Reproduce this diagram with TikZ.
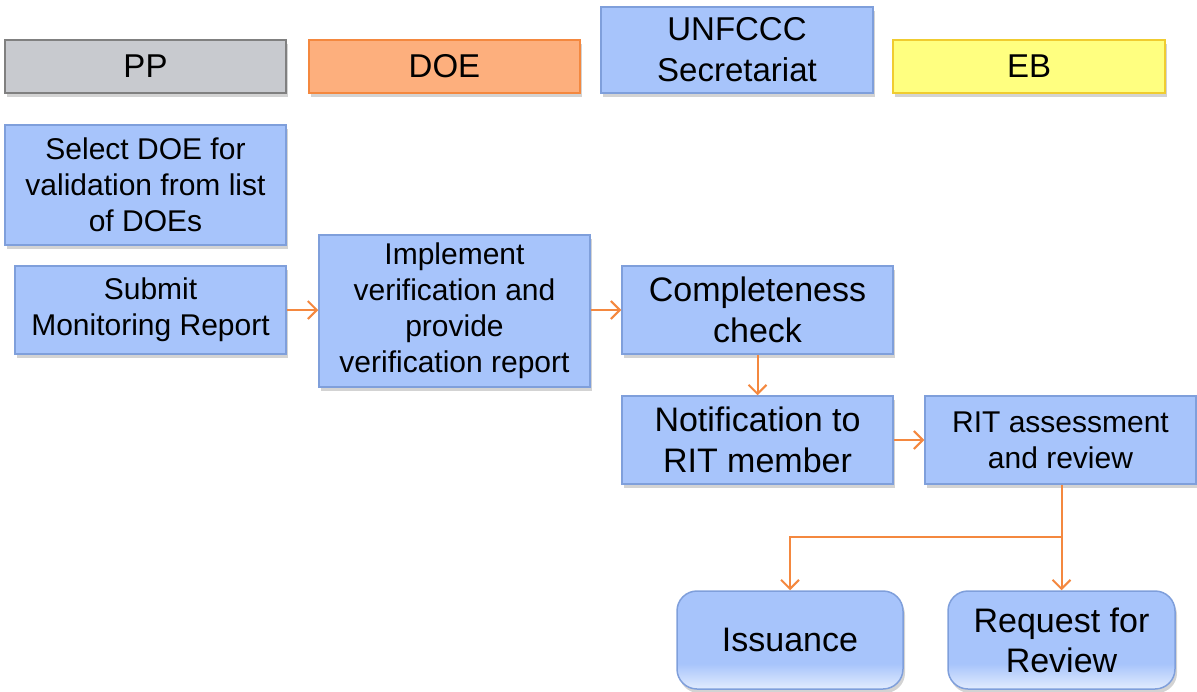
\documentclass[tikz,border=0pt]{standalone}
\usepackage{fontspec}
\setmainfont{Liberation Sans}
\usetikzlibrary{arrows.meta,shadows}

\definecolor{azulcaja}{HTML}{A7C4FB}
\definecolor{azulborde}{HTML}{7F9FDB}
\definecolor{azulclaro}{HTML}{E2ECFE}
\definecolor{grisppc}{HTML}{C8CACF}
\definecolor{naranja}{HTML}{FDAF7D}
\definecolor{naranjaborde}{HTML}{F4883F}
\definecolor{amarillo}{HTML}{FFFF80}
\definecolor{amarilloborde}{HTML}{F0CC30}

\pgfdeclareverticalshading{pastilla}{100bp}{color(0bp)=(azulclaro); color(25bp)=(azulclaro); color(38bp)=(azulcaja); color(100bp)=(azulcaja)}

\tikzstyle{sombra}= [drop shadow={opacity=0.35,shadow xshift=2pt,shadow yshift=-4pt}]
\tikzstyle{actor}= [rectangle,draw,line width=1.5pt,inner sep=0pt,align=center,sombra,font=\fontsize{33}{41}\selectfont]
\tikzstyle{tarea}= [rectangle,draw=azulborde,fill=azulcaja,line width=1.5pt,inner sep=0pt,align=center,sombra,font=\fontsize{30}{36}\selectfont]
\tikzstyle{grande}= [font=\fontsize{34}{41}\selectfont]
\tikzstyle{final}= [rectangle,rounded corners=20pt,draw=azulborde,line width=1.5pt,shading=pastilla,inner sep=0pt,align=center,sombra,font=\fontsize{34}{40}\selectfont]
\tikzstyle{flecha}= [naranjaborde,line width=2pt,-{Straight Barb[length=9pt,width=18pt]}]

\begin{document}
\begin{tikzpicture}[x=1pt,y=-1pt]
		\useasboundingbox (0,0) rectangle (1197,691);

		% cabecera
		\node (pp) at (145.5,66.5) [actor,fill=grisppc,draw=gray,minimum width=281pt,minimum height=53pt] {PP};
		\node (doe) at (444.5,66.5) [actor,fill=naranja,draw=naranjaborde,minimum width=271pt,minimum height=53pt] {DOE};
		\node (unfccc) at (737,50) [actor,fill=azulcaja,draw=azulborde,minimum width=272pt,minimum height=86pt] {UNFCCC\\Secretariat};
		\node (eb) at (1029,66.5) [actor,fill=amarillo,draw=amarilloborde,minimum width=272pt,minimum height=53pt] {EB};

		% pasos
		\node (select) at (145.5,185) [tarea,minimum width=281pt,minimum height=120pt] {Select DOE for\\validation from list\\of DOEs};
		\node (submit) at (150.5,310) [tarea,minimum width=271pt,minimum height=88pt] {Submit\\Monitoring Report};
		\node (implement) at (454.5,311) [tarea,minimum width=271pt,minimum height=152pt] {Implement\\verification and\\provide\\verification report};
		\node (check) at (757.5,310) [tarea,grande,minimum width=271pt,minimum height=88pt] {Completeness\\check};
		\node (notif) at (757.5,440) [tarea,grande,minimum width=271pt,minimum height=88pt] {Notification to\\RIT member};
		\node (rit) at (1060.5,440) [tarea,minimum width=271pt,minimum height=88pt] {RIT assessment\\and review};

		\node (issuance) at (790,640) [final,minimum width=226pt,minimum height=98pt] {Issuance};
		\node (request) at (1061.5,640) [final,minimum width=227pt,minimum height=98pt] {Request for\\Review};

		\coordinate (split) at (1061.5,537);

		\draw[flecha] (submit.east) -- (submit.east -| implement.west);
		\draw[flecha] (implement.east |- check.west) -- (check.west);
		\draw[flecha] (check) -- (notif);
		\draw[flecha] (notif) -- (rit);
		\draw[flecha] (rit.south -| split) -- (split) -- (request.north);
		\draw[flecha] (split) -| (issuance.north);

		\end{tikzpicture}
\end{document}
